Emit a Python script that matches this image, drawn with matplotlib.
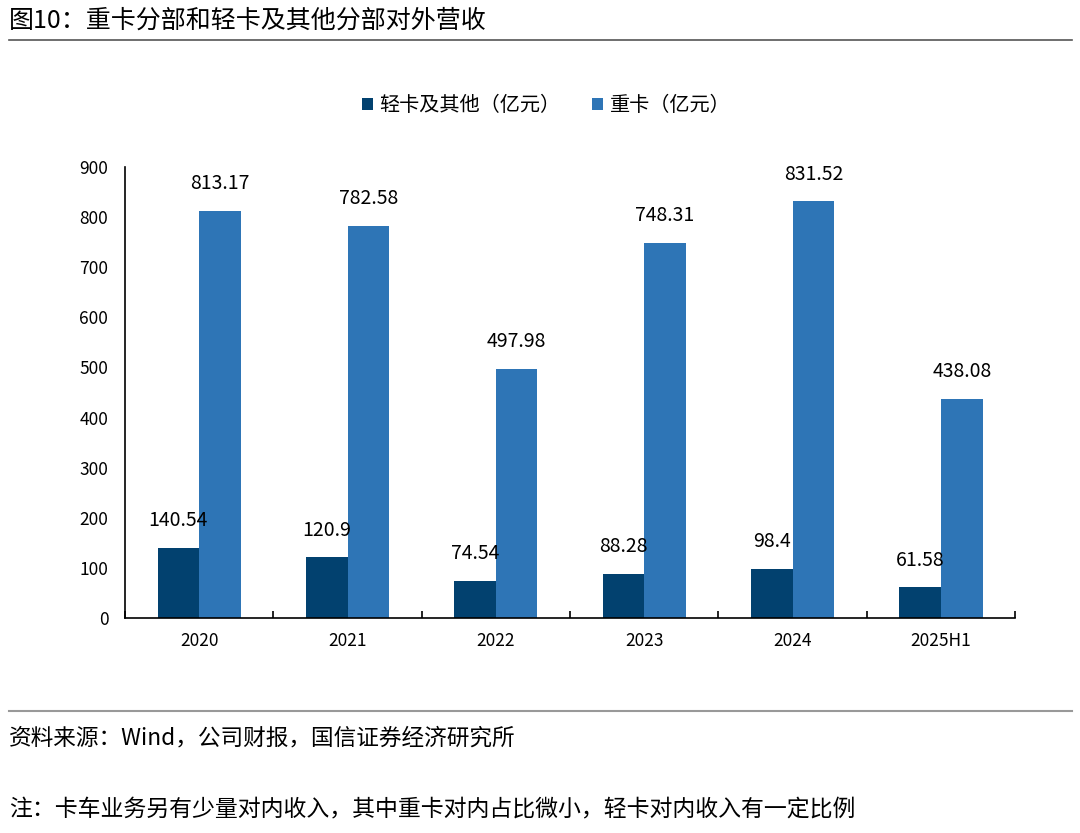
import numpy as np
import matplotlib.pyplot as plt

plt.rcParams['font.family'] = ['Noto Sans CJK SC', 'DejaVu Sans']

categories = ['2020', '2021', '2022', '2023', '2024', '2025H1']
light_other = [140.54, 120.9, 74.54, 88.28, 98.4, 61.58]
heavy = [813.17, 782.58, 497.98, 748.31, 831.52, 438.08]
light_labels = ['140.54', '120.9', '74.54', '88.28', '98.4', '61.58']
heavy_labels = ['813.17', '782.58', '497.98', '748.31', '831.52', '438.08']

c_dark = '#02416F'
c_light = '#2E75B6'

fig = plt.figure(figsize=(10.8, 8.33), dpi=100)
ax = fig.add_axes([0.1157, 0.258, 0.8243, 0.5415])

x = np.arange(len(categories))
w = 0.28
ax.bar(x - w / 2, light_other, w, color=c_dark, label='轻卡及其他（亿元）')
ax.bar(x + w / 2, heavy, w, color=c_light, label='重卡（亿元）')

for i in range(len(categories)):
    ax.annotate(light_labels[i], (x[i] - w / 2, light_other[i]), xytext=(0, 12),
                textcoords='offset points', ha='center', va='bottom', fontsize=14)
    ax.annotate(heavy_labels[i], (x[i] + w / 2, heavy[i]), xytext=(0, 12),
                textcoords='offset points', ha='center', va='bottom', fontsize=14)

ax.set_xlim(-0.5, len(categories) - 0.5)
ax.set_ylim(0, 900)
ax.set_yticks(range(0, 901, 100))
ax.set_xticks(x)
ax.set_xticklabels(categories)
ax.set_xticks(np.arange(-0.5, len(categories)), minor=True)
ax.tick_params(axis='x', which='major', length=0, pad=10, labelsize=12.5)
ax.tick_params(axis='x', which='minor', length=5, direction='in', width=1.2)
ax.tick_params(axis='y', length=0, pad=12, labelsize=12.5)
for s in ['top', 'right']:
    ax.spines[s].set_visible(False)
ax.spines['left'].set_linewidth(1.2)
ax.spines['bottom'].set_linewidth(1.2)

ax.legend(loc='upper center', bbox_to_anchor=(0.473, 1.2), ncol=2, frameon=False,
          fontsize=14.5, handlelength=0.55, handleheight=0.55, columnspacing=1.6, handletextpad=0.3)

fig.text(0.008, 0.975, '图10：重卡分部和轻卡及其他分部对外营收', fontsize=18, va='center')
fig.add_artist(plt.Line2D([0.008, 0.993], [0.952, 0.952], color='#555555', lw=1.2))
fig.add_artist(plt.Line2D([0.008, 0.993], [0.146, 0.146], color='#999999', lw=1.5))
fig.text(0.008, 0.114, '资料来源：Wind，公司财报，国信证券经济研究所', fontsize=16.3, va='center')
fig.text(0.008, 0.028, '注：卡车业务另有少量对内收入，其中重卡对内占比微小，轻卡对内收入有一定比例', fontsize=16.5, va='center')

fig.savefig('out.png', dpi=100)
